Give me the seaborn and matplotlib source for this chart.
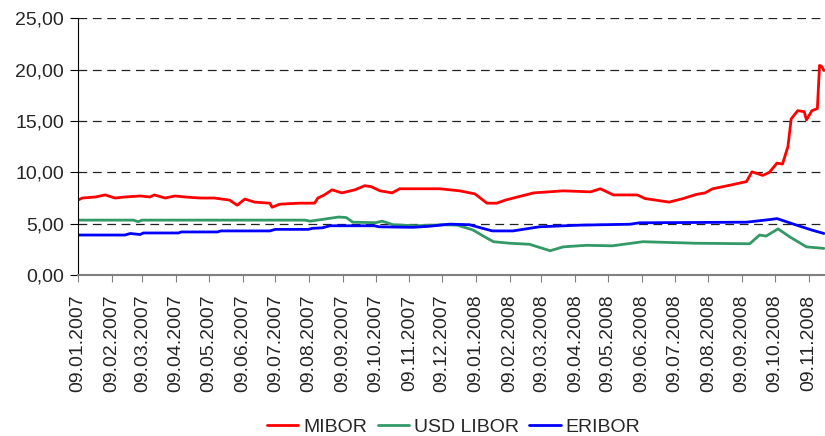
import pandas as pd
import matplotlib.pyplot as plt
import matplotlib.dates as mdates
import matplotlib.ticker as mticker
import seaborn as sns

sns.set_style("white")
plt.rcParams['font.family'] = ['Liberation Sans', 'DejaVu Sans']

# ***** data ***** #
mibor_dates = ["2007-01-09", "2007-01-13", "2007-01-25", "2007-02-03", "2007-02-12", "2007-02-21",
               "2007-03-07", "2007-03-16", "2007-03-20", "2007-03-30", "2007-04-08", "2007-04-17",
               "2007-05-01", "2007-05-14", "2007-05-28", "2007-06-04", "2007-06-11", "2007-06-20",
               "2007-07-04", "2007-07-06", "2007-07-13", "2007-07-31", "2007-08-14", "2007-08-17",
               "2007-08-23", "2007-08-30", "2007-09-08", "2007-09-20", "2007-09-29", "2007-10-05",
               "2007-10-13", "2007-10-24", "2007-10-31", "2007-11-19", "2007-12-07", "2007-12-25",
               "2008-01-08", "2008-01-19", "2008-01-28", "2008-02-05", "2008-02-16", "2008-03-02",
               "2008-03-29", "2008-04-23", "2008-05-02", "2008-05-14", "2008-06-05", "2008-06-12",
               "2008-07-04", "2008-07-17", "2008-07-29", "2008-08-06", "2008-08-13", "2008-08-29",
               "2008-09-13", "2008-09-18", "2008-09-28", "2008-10-04", "2008-10-11", "2008-10-16",
               "2008-10-21", "2008-10-24", "2008-10-30", "2008-11-05", "2008-11-07", "2008-11-12",
               "2008-11-17", "2008-11-19", "2008-11-21", "2008-11-23"]
mibor = [7.3, 7.5, 7.6, 7.8, 7.5, 7.6,
         7.7, 7.6, 7.8, 7.5, 7.7, 7.6,
         7.5, 7.5, 7.3, 6.8, 7.4, 7.1,
         7.0, 6.6, 6.9, 7.0, 7.0, 7.5,
         7.8, 8.3, 8.0, 8.3, 8.7, 8.6,
         8.2, 8.0, 8.4, 8.4, 8.4, 8.2,
         7.9, 7.0, 7.0, 7.3, 7.6, 8.0,
         8.2, 8.1, 8.4, 7.8, 7.8, 7.45,
         7.1, 7.45, 7.85, 8.0, 8.4, 8.75,
         9.1, 10.05, 9.7, 10.0, 10.9, 10.8,
         12.5, 15.2, 16.0, 15.9, 15.1, 16.0,
         16.2, 20.4, 20.3, 19.9]

libor_dates = ["2007-01-09", "2007-03-01", "2007-03-05", "2007-03-09", "2007-08-05", "2007-08-10",
               "2007-08-20", "2007-09-05", "2007-09-12", "2007-09-18", "2007-10-09", "2007-10-15",
               "2007-10-25", "2007-11-15", "2007-12-10", "2007-12-23", "2008-01-06", "2008-01-19",
               "2008-01-25", "2008-02-09", "2008-02-27", "2008-03-17", "2008-03-29", "2008-04-19",
               "2008-05-13", "2008-06-10", "2008-07-29", "2008-09-16", "2008-09-25", "2008-10-01",
               "2008-10-12", "2008-10-23", "2008-11-07", "2008-11-23"]
usd_libor = [5.35, 5.35, 5.2, 5.35, 5.35, 5.25,
             5.4, 5.65, 5.6, 5.15, 5.1, 5.25,
             4.9, 4.8, 4.9, 4.86, 4.4, 3.6,
             3.25, 3.1, 3.0, 2.37, 2.75, 2.9,
             2.85, 3.25, 3.1, 3.05, 3.9, 3.8,
             4.5, 3.7, 2.75, 2.6]

eribor_dates = ["2007-01-09", "2007-02-21", "2007-02-26", "2007-03-07", "2007-03-10", "2007-04-11",
                "2007-04-14", "2007-05-17", "2007-05-20", "2007-07-04", "2007-07-09", "2007-08-08",
                "2007-08-12", "2007-08-21", "2007-08-28", "2007-10-08", "2007-10-12", "2007-11-12",
                "2007-11-27", "2007-12-16", "2008-01-03", "2008-01-12", "2008-01-24", "2008-02-12",
                "2008-03-07", "2008-04-13", "2008-05-29", "2008-06-07", "2008-09-13", "2008-10-04",
                "2008-10-11", "2008-10-29", "2008-11-12", "2008-11-23"]
eribor = [3.9, 3.9, 4.05, 3.95, 4.1, 4.1,
          4.2, 4.2, 4.3, 4.3, 4.45, 4.45,
          4.55, 4.6, 4.8, 4.8, 4.7, 4.65,
          4.75, 4.96, 4.9, 4.64, 4.3, 4.3,
          4.7, 4.86, 4.95, 5.09, 5.15, 5.4,
          5.5, 4.86, 4.38, 4.05]

tick_dates = pd.date_range("2007-01-01", "2008-11-01", freq="MS") + pd.Timedelta(days=8)

df = pd.concat([
    pd.DataFrame({"date": pd.to_datetime(mibor_dates), "value": mibor, "series": "MIBOR"}),
    pd.DataFrame({"date": pd.to_datetime(libor_dates), "value": usd_libor, "series": "USD LIBOR"}),
    pd.DataFrame({"date": pd.to_datetime(eribor_dates), "value": eribor, "series": "ERIBOR"}),
])
colors = {"MIBOR": "#ff0000", "USD LIBOR": "#339966", "ERIBOR": "#0000ff"}

fig = plt.figure(figsize=(8.25, 4.36), dpi=100)
ax = fig.add_axes([0.0945, 0.369, 0.9055, 0.5894])

sns.lineplot(data=df, x="date", y="value", hue="series", palette=colors, linewidth=2, ax=ax, legend=False)

ax.set_ylim(0, 25)
ax.set_yticks(range(0, 26, 5))
ax.yaxis.set_major_formatter(mticker.FuncFormatter(lambda v, p: f"{v:.2f}".replace(".", ",")))
ax.set_xlim(pd.Timestamp("2007-01-09"), pd.Timestamp("2008-11-24"))
ax.set_xticks(tick_dates)
ax.xaxis.set_major_formatter(mdates.DateFormatter("%d.%m.%Y"))
ax.tick_params(axis="x", rotation=90, labelsize=14, length=5, color="#808080", pad=9)
ax.tick_params(axis="y", labelsize=14, length=6, color="black", pad=4)
ax.tick_params(bottom=True, left=True)
ax.grid(axis="y", linestyle=(0, (7, 4.5)), color="#222222", linewidth=0.9)
ax.set_axisbelow(True)
ax.set_xlabel("")
ax.set_ylabel("")
for s in ["top", "right"]:
    ax.spines[s].set_visible(False)
ax.spines["left"].set_color("black")
ax.spines["bottom"].set_color("#808080")
ax.spines["bottom"].set_linewidth(1.5)

handles = [plt.Line2D([], [], color=colors[k], linewidth=2) for k in colors]
fig.legend(handles, list(colors), loc="center", bbox_to_anchor=(0.55, 0.021), ncol=3, frameon=False,
           fontsize=14, handlelength=1.6, handletextpad=0.25, columnspacing=0.55)

fig.savefig("out.png", dpi=100)
